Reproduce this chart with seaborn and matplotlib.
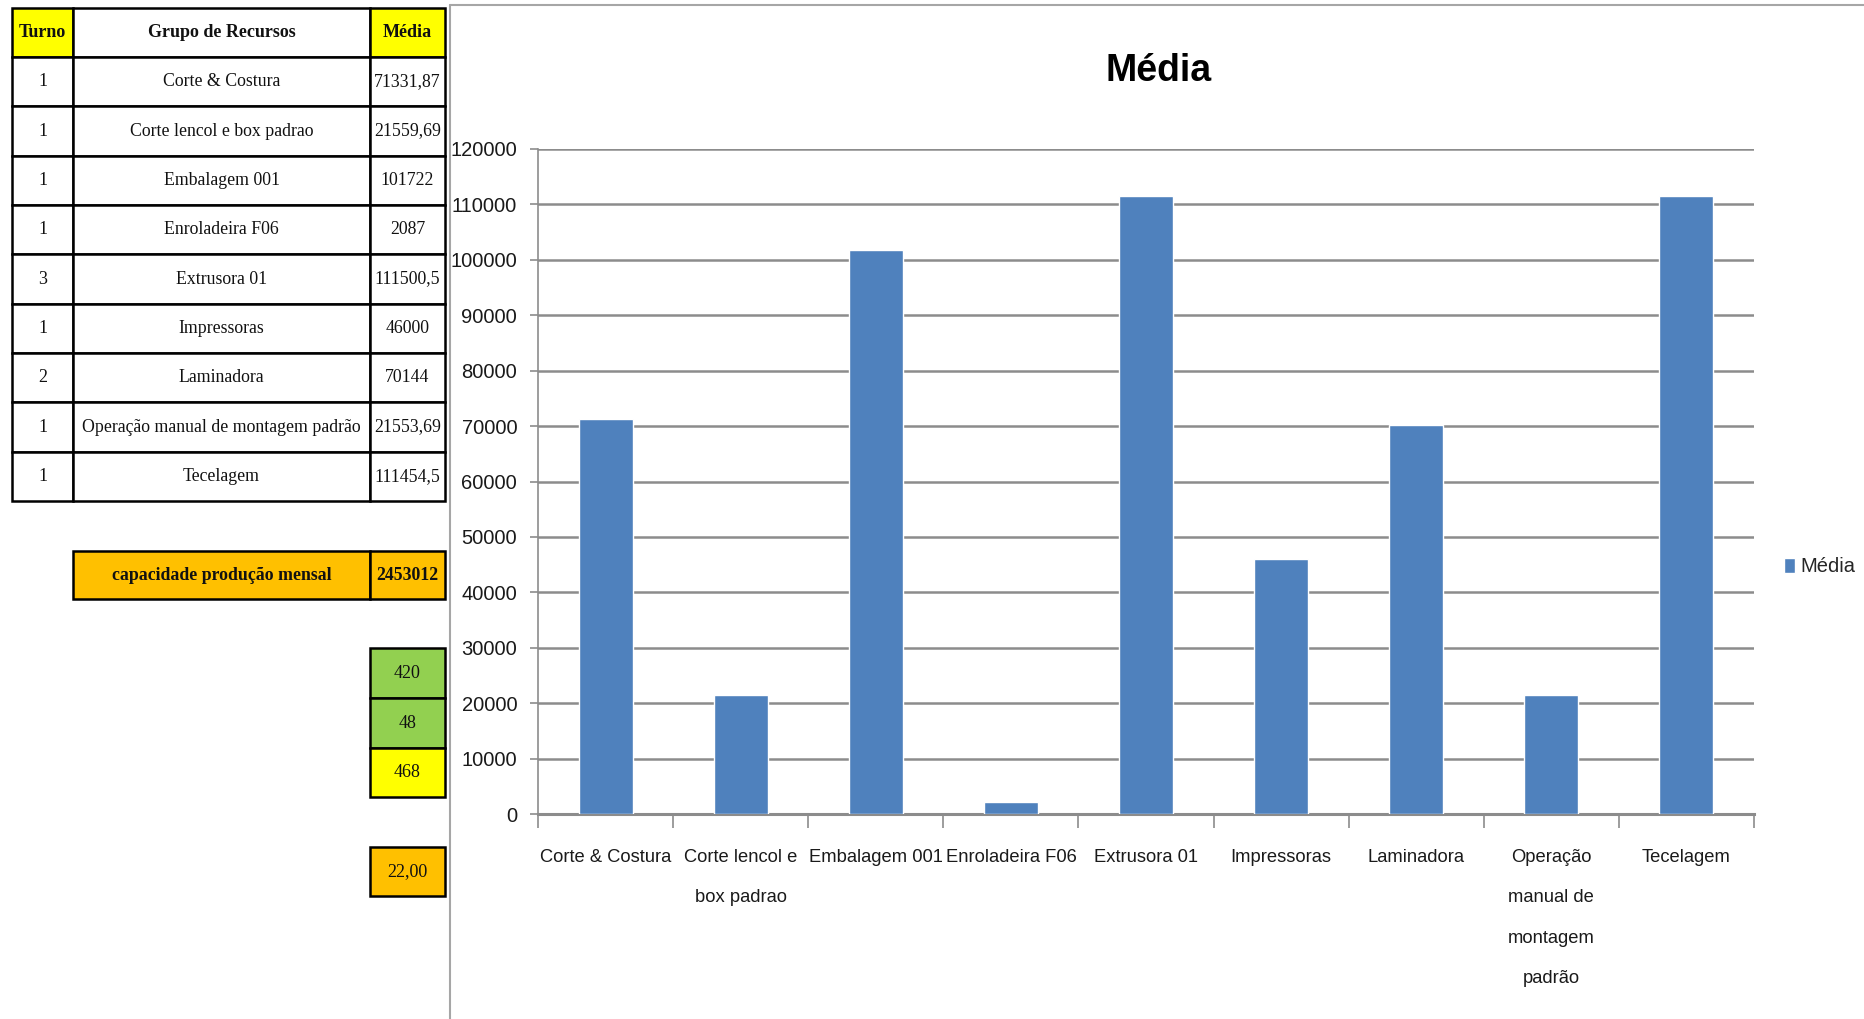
import matplotlib
matplotlib.use('Agg')
import matplotlib.pyplot as plt
import seaborn as sns
import pandas as pd
from matplotlib.patches import Rectangle
from matplotlib.lines import Line2D

# ---------------- data ----------------
categories = ["Corte & Costura", "Corte lencol e box padrao", "Embalagem 001",
              "Enroladeira F06", "Extrusora 01", "Impressoras", "Laminadora",
              "Operação manual de montagem padrão", "Tecelagem"]
category_labels = ["Corte & Costura", "Corte lencol e\nbox padrao", "Embalagem 001",
                   "Enroladeira F06", "Extrusora 01", "Impressoras", "Laminadora",
                   "Operação\nmanual de\nmontagem\npadrão", "Tecelagem"]
media_values = [71331.87, 21559.69, 101722, 2087, 111500.5, 46000, 70144, 21553.69, 111454.5]
turnos = ["1", "1", "1", "1", "3", "1", "2", "1", "1"]
media_text = ["71331,87", "21559,69", "101722", "2087", "111500,5",
              "46000", "70144", "21553,69", "111454,5"]
header = ["Turno", "Grupo de Recursos", "Média"]
y_ticks = list(range(0, 120001, 10000))
capacidade_label = "capacidade produção mensal"
capacidade_value = "2453012"
extra_values = ["420", "48", "468"]
dias_value = "22,00"
chart_title = "Média"

# ---------------- style ----------------
sns.set_theme(style="white")
SANS = ["Liberation Sans", "DejaVu Sans"]
SERIF = ["Liberation Serif", "DejaVu Serif"]
plt.rcParams['font.family'] = SANS

BLUE = "#4F81BD"
GRID = "#8C8C8C"
YELLOW = "#FFFF00"
ORANGE = "#FFC000"
GREEN = "#92D050"
TXT = "#1a1a1a"

W, H = 1865, 1019
fig = plt.figure(figsize=(W / 100, H / 100), dpi=100)
fig.patch.set_facecolor("white")

# background / spreadsheet layer in pixel coordinates
bg = fig.add_axes([0, 0, 1, 1], zorder=0)
bg.set_xlim(0, W)
bg.set_ylim(H, 0)
bg.axis("off")


def cell(x0, y0, x1, y1, fc, text, bold=False, size=13):
    bg.add_patch(Rectangle((x0, y0), x1 - x0, y1 - y0, facecolor=fc,
                           edgecolor="black", linewidth=1.8))
    bg.text((x0 + x1) / 2, (y0 + y1) / 2, text, ha="center", va="center",
            fontsize=size, family=SERIF, fontweight="bold" if bold else "normal",
            color="#111111")


cols = [12, 73, 370, 445]
row_top = 8
row_h0 = 57
row_h = (501 - 57) / 9.0

# header
hdr_colors = [YELLOW, "white", YELLOW]
for j in range(3):
    cell(cols[j], row_top, cols[j + 1], row_h0, hdr_colors[j], header[j], bold=True, size=13)
for i in range(len(categories)):
    y0 = row_h0 + i * row_h
    y1 = y0 + row_h
    cell(cols[0], y0, cols[1], y1, "white", turnos[i])
    cell(cols[1], y0, cols[2], y1, "white", categories[i], size=12.8)
    cell(cols[2], y0, cols[3], y1, "white", media_text[i], size=12.8)

# capacidade
cell(cols[1], 551, cols[2], 599, ORANGE, capacidade_label, bold=True, size=12.8)
cell(cols[2], 551, cols[3], 599, ORANGE, capacidade_value, bold=True, size=12.8)

# extra cells
extra_colors = [GREEN, GREEN, YELLOW]
ey = [648, 698, 748, 797]
for k in range(3):
    cell(cols[2], ey[k], cols[3], ey[k + 1], extra_colors[k], extra_values[k])
cell(cols[2], 847, cols[3], 896, ORANGE, dias_value)

# chart frame
bg.add_line(Line2D([450, 450], [5, H], color="#A6A6A6", lw=1.5))
bg.add_line(Line2D([450, W], [5, 5], color="#A6A6A6", lw=1.5))

# ---------------- chart ----------------
ax_left, ax_right, ax_top, ax_bot = 538, 1754, 149, 814
ax = fig.add_axes([ax_left / W, 1 - ax_bot / H, (ax_right - ax_left) / W,
                   (ax_bot - ax_top) / H], zorder=1)
ax.patch.set_alpha(0)

df = pd.DataFrame({"Grupo": categories, "Média": media_values})
sns.barplot(data=df, x="Grupo", y="Média", color=BLUE, saturation=1,
            width=0.4, ax=ax, label="Média", zorder=3)

ax.set_xlim(-0.5, len(categories) - 0.5)
ax.set_ylim(0, 120000)
ax.set_yticks(y_ticks)
ax.set_yticklabels([str(v) for v in y_ticks], fontsize=14.5, color=TXT)
ax.yaxis.grid(True, color=GRID, linewidth=1.8, zorder=0)
ax.set_axisbelow(True)
ax.set_xlabel("")
ax.set_ylabel("")

ax.set_xticks(range(len(categories)))
ax.set_xticklabels(category_labels, fontsize=13.2, linespacing=2.8, color=TXT,
                   va="top")
ax.set_xticks([i - 0.5 for i in range(len(categories) + 1)], minor=True)
ax.tick_params(axis="x", which="major", length=0, pad=25)
ax.tick_params(axis="x", which="minor", length=10, width=1.2, color=GRID, direction="out",
               bottom=True)
ax.tick_params(axis="y", which="major", length=6, width=1.2, color=GRID, direction="out",
               left=True, pad=9)

for s in ["top", "right"]:
    ax.spines[s].set_visible(False)
ax.spines["left"].set_color(GRID)
ax.spines["left"].set_linewidth(1.2)
ax.spines["bottom"].set_color(GRID)
ax.spines["bottom"].set_linewidth(2.2)

fig.text(1159 / W, 1 - 71 / H, chart_title, ha="center", va="center",
         fontsize=27, fontweight="bold", color="black")

ax.legend(loc="center left", bbox_to_anchor=(1774 / W, 1 - 567 / H),
          bbox_transform=fig.transFigure, frameon=False, fontsize=14.5,
          handlelength=0.55, handleheight=0.8, handletextpad=0.25, borderpad=0)

fig.savefig("out.png", dpi=100, facecolor="white")
